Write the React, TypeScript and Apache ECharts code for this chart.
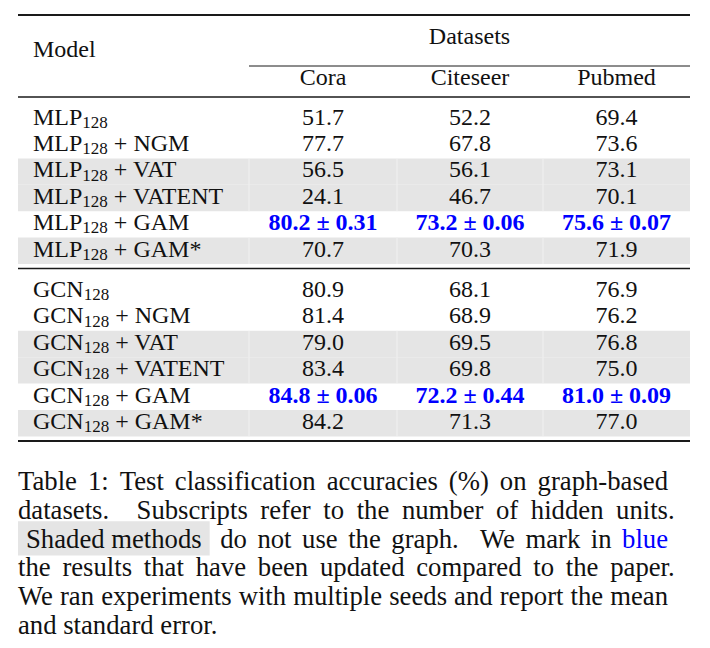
import React, { useEffect, useRef } from 'react';
import * as echarts from 'echarts';

// ---------- data ----------
const modelHeader = 'Model';
const groupHeader = 'Datasets';
const datasets = ['Cora', 'Citeseer', 'Pubmed'];
const baseModels = ['MLP', 'GCN'];
const hiddenUnits = '128';
const methods = ['', ' + NGM', ' + VAT', ' + VATENT', ' + GAM', ' + GAM*'];
const shadedRows = [false, false, true, true, false, true];
const updatedRow = 4;

const mlpCora = [51.7, 77.7, 56.5, 24.1, 80.2, 70.7];
const mlpCiteseer = [52.2, 67.8, 56.1, 46.7, 73.2, 70.3];
const mlpPubmed = [69.4, 73.6, 73.1, 70.1, 75.6, 71.9];
const mlpGamStdErr = [0.31, 0.06, 0.07];

const gcnCora = [80.9, 81.4, 79.0, 83.4, 84.8, 84.2];
const gcnCiteseer = [68.1, 68.9, 69.5, 69.8, 72.2, 71.3];
const gcnPubmed = [76.9, 76.2, 76.8, 75.0, 81.0, 77.0];
const gcnGamStdErr = [0.06, 0.44, 0.09];

const captionLines = [
  'Table 1: Test classification accuracies (%) on graph-based',
  'datasets. Subscripts refer to the number of hidden units.',
  '[Shaded methods] do not use the graph. We mark in {blue}',
  'the results that have been updated compared to the paper.',
  'We ran experiments with multiple seeds and report the mean',
  'and standard error.',
];

// ---------- layout ----------
const FAMILY = '"Liberation Serif", "Times New Roman", serif';
const FS = 24;
const SUB_FS = 17;
const CFS = 26.7;
const TL = 18;
const TR = 690;
const COL_EDGES = [249, 397, 543, 690];
const LABEL_X = 33;
const ROW_H = 26.4;
const SECTION_TOPS = [105.6, 278];
const BASE_OFF = 19;
const GRAY = '#e5e5e5';
const BLUE = '#0000ff';
const INK = '#111';

export default function App() {
  const ref = useRef<HTMLDivElement>(null);
  useEffect(() => {
    const ctx = document.createElement('canvas').getContext('2d')!;
    const font = (size: number, weight = 'normal') => `${weight} ${size}px ${FAMILY}`;
    const tw = (text: string, size: number, weight = 'normal') => {
      ctx.font = font(size, weight);
      return ctx.measureText(text).width;
    };
    const els: any[] = [];
    const text = (t: string, x: number, baseline: number, size: number, align = 'left', weight = 'normal', fill = INK) => {
      els.push({
        type: 'text',
        x,
        y: baseline - 0.3375 * size,
        z: 10,
        silent: true,
        style: {
          text: t,
          font: font(size, weight),
          fill,
          textAlign: align,
          align,
          textVerticalAlign: 'middle',
          verticalAlign: 'middle',
        },
      });
    };
    const line = (x1: number, y1: number, x2: number, y2: number, w: number, color = '#1a1a1a', z = 5) => {
      els.push({ type: 'line', z, silent: true, shape: { x1, y1, x2, y2 }, style: { stroke: color, lineWidth: w } });
    };
    const rect = (x: number, y: number, w: number, h: number, fill: string) => {
      els.push({ type: 'rect', z: 1, silent: true, shape: { x, y, width: w, height: h }, style: { fill } });
    };

    // rules
    line(TL, 15, TR, 15, 1.9);
    line(COL_EDGES[0], 66, TR, 66, 1);
    line(TL, 97, TR, 97, 1.3);
    line(TL, 268.5, TR, 268.5, 1.3);
    line(TL, 441, TR, 441, 1.9);

    // header
    const centers = COL_EDGES.slice(0, 3).map((e, i) => (e + COL_EDGES[i + 1]) / 2);
    text(modelHeader, LABEL_X, 57, FS);
    text(groupHeader, (COL_EDGES[0] + TR) / 2, 44, FS, 'center');
    datasets.forEach((d, i) => text(d, centers[i], 85, FS, 'center'));

    const sections = [
      { base: baseModels[0], cols: [mlpCora, mlpCiteseer, mlpPubmed], err: mlpGamStdErr },
      { base: baseModels[1], cols: [gcnCora, gcnCiteseer, gcnPubmed], err: gcnGamStdErr },
    ];
    sections.forEach((sec, s) => {
      methods.forEach((m, r) => {
        const top = SECTION_TOPS[s] + r * ROW_H;
        const bl = top + BASE_OFF;
        if (shadedRows[r]) {
          rect(TL, top, TR - TL, ROW_H, GRAY);
          COL_EDGES.slice(0, 3).forEach((e) => line(e, top, e, top + ROW_H, 1, '#f1f1f1', 2));
        }
        let x = LABEL_X;
        text(sec.base, x, bl, FS);
        x += tw(sec.base, FS);
        text(hiddenUnits, x, bl + 3.5, SUB_FS);
        x += tw(hiddenUnits, SUB_FS);
        if (m) text(m, x, bl, FS);
        sec.cols.forEach((col, c) => {
          if (r === updatedRow) {
            text(`${col[r].toFixed(1)} ± ${sec.err[c].toFixed(2)}`, centers[c], bl, FS, 'center', 'bold', BLUE);
          } else {
            text(col[r].toFixed(1), centers[c], bl, FS, 'center');
          }
        });
      });
    });

    // caption
    const CL = 18;
    const CR = 668;
    const BOXSEP = 8;
    const ASC = 0.683 * CFS;
    const period = tw('.', CFS);
    const space = tw(' ', CFS);
    captionLines.forEach((ln, i) => {
      const bl = 490 + i * 28.8;
      const tokens: { t: string; w: number; box?: boolean; blue?: boolean }[] = [];
      let rest = ln;
      const boxMatch = rest.match(/^\[(.*?)\]\s*/);
      if (boxMatch) {
        tokens.push({ t: boxMatch[1], w: tw(boxMatch[1], CFS) + 2 * BOXSEP, box: true });
        rest = rest.slice(boxMatch[0].length);
      }
      rest.split(' ').forEach((wd) => {
        const blue = /^\{.*\}$/.test(wd);
        const t = blue ? wd.slice(1, -1) : wd;
        tokens.push({ t, w: tw(t, CFS), blue });
      });
      const last = i === captionLines.length - 1;
      const gaps: number[] = [];
      const weights: number[] = [];
      for (let k = 0; k < tokens.length - 1; k++) {
        const sent = tokens[k].t.endsWith('.') && !tokens[k].box;
        gaps.push(space + (sent ? 0.11 * CFS : 0));
        weights.push(sent ? 3 : 1);
      }
      if (!last) {
        const endsDot = tokens[tokens.length - 1].t.endsWith('.');
        const target = CR - CL + (endsDot ? period : 0);
        const total = tokens.reduce((a, b) => a + b.w, 0) + gaps.reduce((a, b) => a + b, 0);
        const diff = target - total;
        const wsum = diff > 0 ? weights.reduce((a, b) => a + b, 0) : weights.length;
        for (let k = 0; k < gaps.length; k++) gaps[k] += (diff * (diff > 0 ? weights[k] : 1)) / wsum;
      }
      let x = CL;
      tokens.forEach((tk, k) => {
        if (tk.box) {
          rect(x, bl - ASC - BOXSEP, tk.w, ASC + 2 * BOXSEP, GRAY);
          text(tk.t, x + BOXSEP, bl, CFS);
        } else {
          text(tk.t, x, bl, CFS, 'left', 'normal', tk.blue ? BLUE : INK);
        }
        x += tk.w + (k < gaps.length ? gaps[k] : 0);
      });
    });

    const chart = echarts.init(ref.current!, null, { renderer: 'svg', width: 710, height: 648 });
    chart.setOption({ animation: false, backgroundColor: '#ffffff', graphic: { elements: els } });
    return () => chart.dispose();
  }, []);
  return <div ref={ref} style={{ position: 'fixed', left: 0, top: 0, width: 710, height: 648, background: '#fff' }} />;
}
